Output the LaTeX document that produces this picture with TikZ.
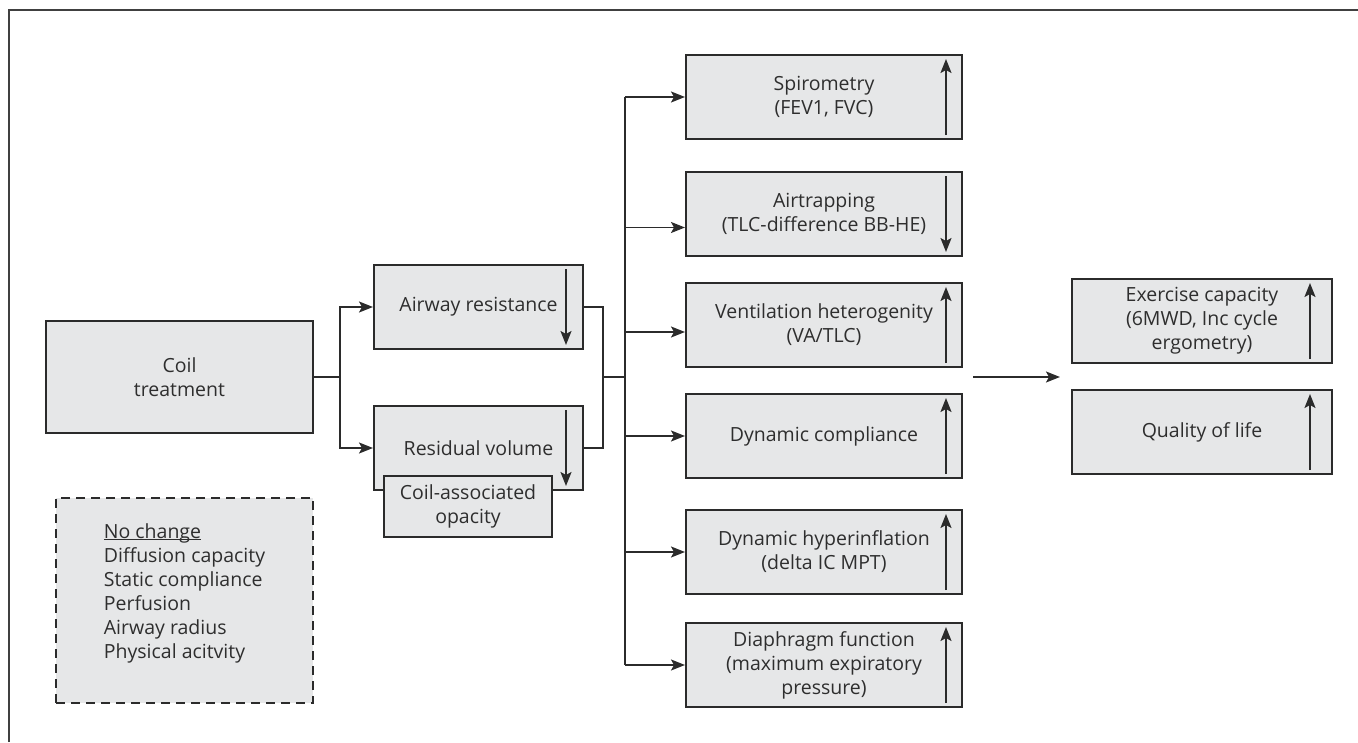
\documentclass[tikz,border=0pt]{standalone}
\usepackage{fontspec}
\setmainfont{Open Sans}
\usetikzlibrary{arrows.meta,positioning,calc}
\definecolor{boxfill}{HTML}{E6E7E8}
\definecolor{boxline}{HTML}{2B2B2B}
\definecolor{txtgray}{HTML}{2E2E2E}

\begin{document}
\begin{tikzpicture}[x=1pt,y=-1pt,
    font=\fontsize{19.5}{24}\selectfont,text=txtgray,
    box/.style={draw=boxline,fill=boxfill,line width=2pt,align=center,inner sep=2pt},
    leftbox/.style={box,minimum width=209pt,minimum height=84pt},
    midbox/.style={box,minimum width=276pt,minimum height=84pt},
    rightbox/.style={box,minimum width=260pt,minimum height=84pt},
    link/.style={draw=boxline,line width=1.7pt},
    arr/.style={link,-{Stealth[length=14pt,width=11pt,inset=3pt]}}]

  \useasboundingbox (0,0) rectangle (1358,742);
  \draw[line width=1.6pt,draw=black!75] (9,742) -- (9,10) -- (1358,10);

  % left part
  \node[box,minimum width=267pt,minimum height=112pt] (coil) at (179.5,377) {Coil\\treatment};
  \node[leftbox] (airway) at (478.5,307) {Airway resistance};
  \node[leftbox] (resid) [below=55pt of airway] {Residual volume};
  \node[box,minimum width=168pt,minimum height=61pt] (opac) at (468,506.5) {Coil-associated\\opacity};
  \node[box,dashed,dash pattern=on 9pt off 6pt,line width=1.6pt,
        minimum width=257pt,minimum height=205pt,align=left] (nochange) at (184.5,600.5)
        {\underline{\smash{No change}}\\Diffusion capacity\\Static compliance\\Perfusion\\Airway radius\\Physical acitvity};

  % middle column
  \node[midbox] (spiro) at (824,97) {Spirometry\\(FEV1, FVC)};
  \node[midbox] (trap) [below=31pt of spiro] {Airtrapping\\(TLC-difference BB-HE)};
  \node[midbox] (vent) [below=25pt of trap] {Ventilation heterogenity\\(VA/TLC)};
  \node[midbox] (dcomp) [below=25pt of vent] {Dynamic compliance};
  \node[midbox] (hyper) [below=30pt of dcomp] {Dynamic hyperinflation\\(delta IC MPT)};
  \node[midbox] (diaph) [below=27pt of hyper] {Diaphragm function\\(maximum expiratory\\pressure)};

  % right column
  \node[rightbox] (exer) at (1202,321) {Exercise capacity\\(6MWD, Inc cycle\\ergometry)};
  \node[rightbox] (qol) [below=25pt of exer] {Quality of life};

  \coordinate (split) at (340,377);
  \coordinate (join) at (603,377);
  \coordinate (dist) at (625,377);
  \coordinate (trapin) at ($(trap.west)+(0,13.5)$);
  \coordinate (ventin) at ($(vent.west)+(0,7)$);
  \coordinate (bigfrom) at (973,377);
  \coordinate (bigto) at (1060,377);

  \draw[link] (coil.east) -- (split);
  \draw[arr] (split) |- (airway.west);
  \draw[arr] (split) |- (resid.west);
  \draw[link] (airway.east) -| (join) |- (resid.east);
  \draw[link] (join) -- (dist);
  \draw[link] (dist |- spiro.west) -- (dist |- diaph.west);
  \foreach \n in {spiro,dcomp,hyper,diaph}
    \draw[arr] (dist |- \n.west) -- (\n.west);
  \draw[arr] (dist |- trapin) -- (trapin);
  \draw[arr] (dist |- ventin) -- (ventin);
  \draw[arr] (bigfrom) -- (bigto);

  % up / down marks
  \foreach \n in {airway,resid}
    \draw[arr] ([xshift=-18pt,yshift=-5pt]\n.north east) -- ([xshift=-18pt,yshift=5pt]\n.south east);
  \draw[arr] ([xshift=-17pt,yshift=-5pt]trap.north east) -- ([xshift=-17pt,yshift=5pt]trap.south east);
  \foreach \n in {spiro,vent,dcomp,hyper,diaph}
    \draw[arr] ([xshift=-17pt,yshift=5pt]\n.south east) -- ([xshift=-17pt,yshift=-5pt]\n.north east);
  \foreach \n in {exer,qol}
    \draw[arr] ([xshift=-23pt,yshift=5pt]\n.south east) -- ([xshift=-23pt,yshift=-5pt]\n.north east);
\end{tikzpicture}
\end{document}
